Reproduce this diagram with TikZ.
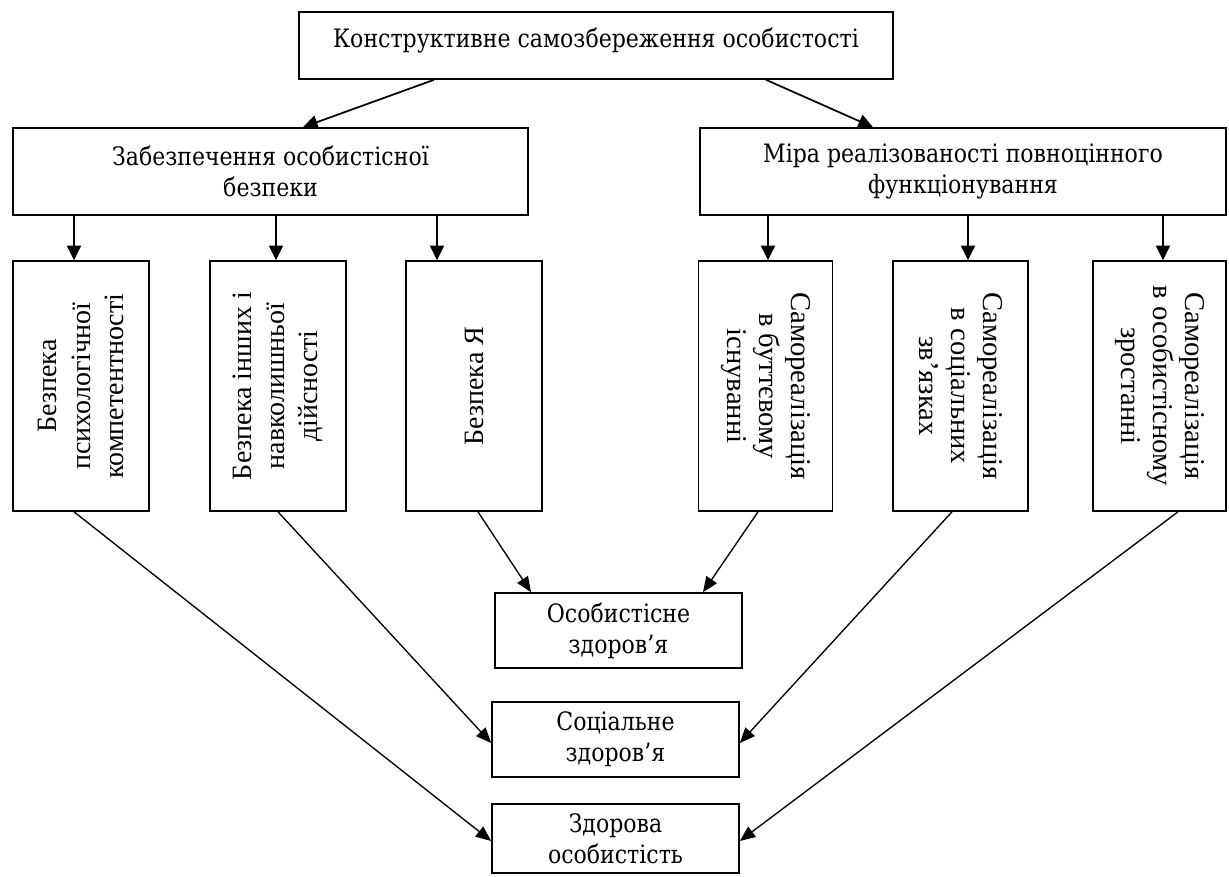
\documentclass[tikz,border=0pt]{standalone}
\usepackage{fontspec}
\setmainfont{Liberation Serif}
\newfontfamily\hfont[FakeStretch=0.87]{DejaVu Serif}
\usetikzlibrary{arrows.meta,calc}
\begin{document}
\begin{tikzpicture}[x=0.75pt,y=-0.75pt,
  box/.style={draw,line width=1.2pt,rectangle,inner sep=0pt,align=center},
  hbox/.style={box,font=\hfont\fontsize{19}{23}\selectfont},
  vbox/.style={box,font=\fontsize{21}{25}\selectfont},
  vboxr/.style={box,font=\fontsize{21.5}{24}\selectfont},
  arr/.style={line width=1.3pt,-{Triangle[length=11pt,width=10.5pt]}},
  link/.style={line width=1pt,-{Triangle[length=11.5pt,width=9.5pt]}}]
\useasboundingbox (0,0) rectangle (1229,876);

% top level
\node[hbox,minimum width=594*0.75pt,minimum height=67*0.75pt,text depth=12pt] (top) at (596,45.5) {Конструктивне самозбереження особистості};

% second level
\node[hbox,minimum width=515*0.75pt,minimum height=87*0.75pt] (zab) at (270.5,171.5) {Забезпечення особистісної\\безпеки};
\node[hbox,minimum width=526*0.75pt,minimum height=87*0.75pt] (mira) at (963,171.5) {Міра реалізованості повноцінного\\функціонування};

% vertical boxes
\node[vbox,rotate=90,minimum width=250*0.75pt,minimum height=136*0.75pt] (b1) at (81,386) {Безпека\\психологічної\\компетентності};
\node[vbox,rotate=90,minimum width=250*0.75pt,minimum height=136*0.75pt] (b2) at (278,386) {Безпека інших і\\навколишньої\\дійсності};
\node[vbox,rotate=90,minimum width=250*0.75pt,minimum height=136*0.75pt] (b3) at (474,386) {Безпека Я};
\node[vboxr,rotate=-90,minimum width=250*0.75pt,minimum height=134*0.75pt] (b4) at (765.5,386) {Самореалізація\\в буттєвому\\існуванні};
\node[vboxr,rotate=-90,minimum width=250*0.75pt,minimum height=135*0.75pt] (b5) at (960.5,386) {Самореалізація\\в соціальних\\зв’язках};
\node[vboxr,rotate=-90,minimum width=250*0.75pt,minimum height=133*0.75pt] (b6) at (1159.5,386) {Самореалізація\\в особистісному\\зростанні};

% bottom boxes
\node[hbox,minimum width=247*0.75pt,minimum height=75*0.75pt] (osob) at (618.5,630.5) {Особистісне\\здоров’я};
\node[hbox,minimum width=247*0.75pt,minimum height=75*0.75pt] (soc) at (615.5,739.5) {Соціальне\\здоров’я};
\node[hbox,minimum width=247*0.75pt,minimum height=69*0.75pt] (zdor) at (615.5,838.5) {Здорова\\особистість};

% x positions of connector ends
\coordinate (xt1) at (434,0);
\coordinate (xt2) at (766,0);
\coordinate (xz) at (303,0);
\coordinate (xm) at (873,0);
\coordinate (x1) at (74,0);
\coordinate (x2) at (276,0);
\coordinate (x3) at (437,0);
\coordinate (x4) at (768,0);
\coordinate (x5) at (968,0);
\coordinate (x6) at (1163,0);
\coordinate (s1) at (74,0);
\coordinate (s2) at (278,0);
\coordinate (s3) at (478,0);
\coordinate (s4) at (758,0);
\coordinate (s5) at (952,0);
\coordinate (s6) at (1178,0);
\coordinate (o1) at (531,0);
\coordinate (o2) at (703,0);
\coordinate (ys) at (0,743);
\coordinate (yz) at (0,841);

% top arrows
\draw[arr] (top.south -| xt1) -- (zab.north -| xz);
\draw[arr] (top.south -| xt2) -- (mira.north -| xm);

% down arrows
\draw[arr] (zab.south -| x1) -- (b1.east -| x1);
\draw[arr] (zab.south -| x2) -- (b2.east -| x2);
\draw[arr] (zab.south -| x3) -- (b3.east -| x3);
\draw[arr] (mira.south -| x4) -- (b4.west -| x4);
\draw[arr] (mira.south -| x5) -- (b5.west -| x5);
\draw[arr] (mira.south -| x6) -- (b6.west -| x6);

% links to bottom boxes
\draw[link] (b1.west -| s1) -- (zdor.west |- yz);
\draw[link] (b2.west -| s2) -- (soc.west |- ys);
\draw[link] (b3.west -| s3) -- (osob.north -| o1);
\draw[link] (b4.east -| s4) -- (osob.north -| o2);
\draw[link] (b5.east -| s5) -- (soc.east |- ys);
\draw[link] (b6.east -| s6) -- (zdor.east |- yz);
\end{tikzpicture}
\end{document}
